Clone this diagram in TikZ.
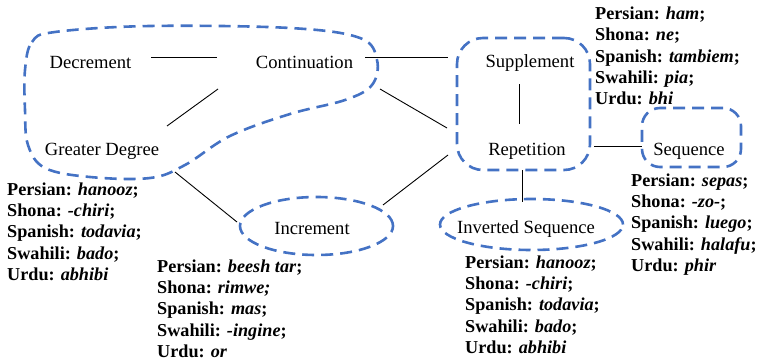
\documentclass[tikz,border=0pt]{standalone}
\usepackage{fontspec}
\setmainfont{Liberation Serif}[BoldFont={Liberation Serif Bold}, ItalicFont={Liberation Serif Italic}, BoldItalicFont={Liberation Serif Bold Italic}]
\usetikzlibrary{shapes.geometric}
\definecolor{wblue}{RGB}{68,114,196}
\begin{document}
\begin{tikzpicture}[x=1pt,y=-1pt,
  lbl/.style={font=\fontsize{18.6}{21}\selectfont, inner sep=0pt, anchor=base},
  blk/.style={font=\fontsize{18.2}{21.3}\selectfont\bfseries, inner sep=0pt, anchor=north west, align=left},
  conn/.style={line width=0.9pt},
  grp/.style={draw=wblue, line width=2.6pt, dash pattern=on 12pt off 7pt, inner sep=0pt}]
\useasboundingbox (0,0) rectangle (767,361);

% labels
\node[lbl] (dec) at (90.5,68) {Decrement};
\node[lbl] (cont) at (304.5,68) {Continuation};
\node[lbl] (gd) at (102,155) {Greater Degree};
\node[lbl] (sup) at (530,67) {Supplement};
\node[lbl] (rep) at (527,155) {Repetition};
\node[lbl] (seq) at (689,155) {Sequence};
\node[lbl] (inc) at (312,234) {Increment};
\node[lbl] (inv) at (526,233) {Inverted Sequence};

% groups
\draw[grp] plot[smooth cycle, tension=0.6] coordinates {(25,70) (32,42) (55,32) (150,26) (290,28) (360,38) (377,60) (372,85) (345,100) (290,114) (230,136) (185,165) (150,178) (90,177) (45,168) (28,145) (25,110)};
\node[grp, rectangle, rounded corners=26pt, minimum width=133pt, minimum height=132pt] (rgrp) at (523.5,104) {};
\node[grp, rectangle, rounded corners=18pt, minimum width=99pt, minimum height=59pt] (sgrp) at (691.5,137.5) {};
\node[grp, ellipse, minimum width=153pt, minimum height=58pt] (igrp) at (316.5,226) {};
\node[grp, ellipse, minimum width=183pt, minimum height=51pt] (vgrp) at (531.5,224.5) {};

% connector end points
\coordinate (c1a) at (151,57); \coordinate (c1b) at (217,57);
\coordinate (c2a) at (365,57); \coordinate (c2b) at (448,57);
\coordinate (c3a) at (218,89); \coordinate (c3b) at (167,126);
\coordinate (c4a) at (175,172); \coordinate (c4b) at (237,222);
\coordinate (c5a) at (380,89); \coordinate (c5b) at (447,128);
\coordinate (c6a) at (383,205); \coordinate (c6b) at (448,155);
\coordinate (c7a) at (519,84); \coordinate (c7b) at (519,124);
\coordinate (c8a) at (594,146); \coordinate (c8b) at (642,146);
\coordinate (c9a) at (522,170); \coordinate (c9b) at (522,202);
\foreach \i in {1,...,9} {\draw[conn] (c\i a) -- (c\i b);}

% text blocks
\node[blk] (tsup) at (595,6.7) {Persian: \textit{ham};\\Shona: \textit{ne};\\Spanish: \textit{tambiem};\\Swahili: \textit{pia};\\Urdu: \textit{bhi}};
\node[blk] (tgd) at (7,182.4) {Persian: \textit{hanooz};\\Shona: \textit{-chiri};\\Spanish: \textit{todavia};\\Swahili: \textit{bado};\\Urdu: \textit{abhibi}};
\node[blk] (tinc) at (157,259.4) {Persian: \textit{beesh tar};\\Shona: \textit{rimwe;}\\Spanish: \textit{mas};\\Swahili: \textit{-ingine};\\Urdu: \textit{or}};
\node[blk] (tinv) at (465,255.4) {Persian: \textit{hanooz};\\Shona: \textit{-chiri};\\Spanish: \textit{todavia};\\Swahili: \textit{bado};\\Urdu: \textit{abhibi}};
\node[blk] (tseq) at (631,173.4) {Persian: \textit{sepas};\\Shona: \textit{-zo-};\\Spanish: \textit{luego};\\Swahili: \textit{halafu};\\Urdu: \textit{phir}};
\end{tikzpicture}
\end{document}
